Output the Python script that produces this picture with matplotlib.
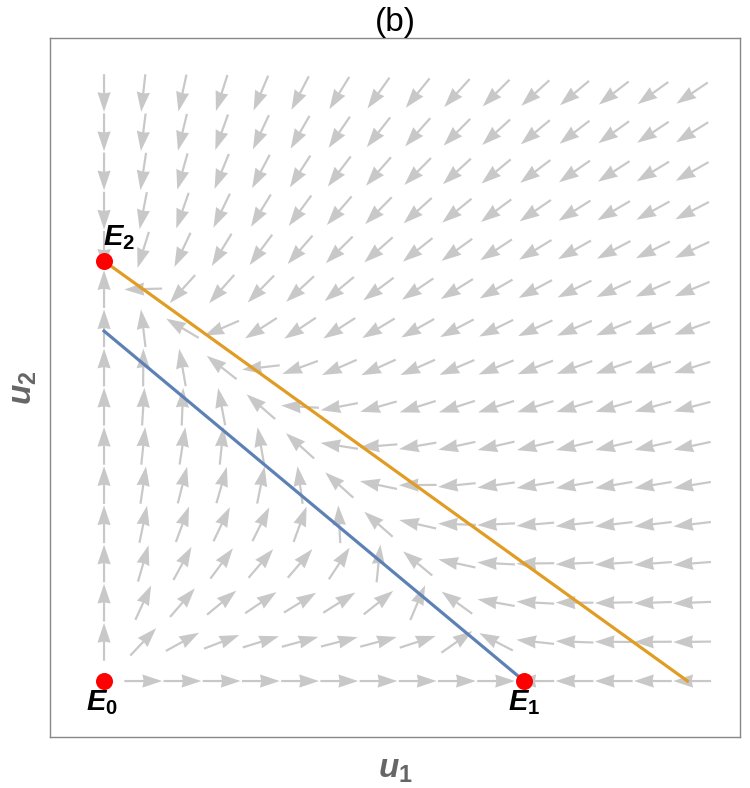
import numpy as np
import matplotlib.pyplot as plt

# model parameters (competition model)
K1, K2 = 1.0, 1.0        # carrying capacities
a12, a21 = 1.2, 0.72     # competition coefficients

# equilibria
eq_names = ['$E_0$', '$E_1$', '$E_2$']
eq_u1 = [0.0, 1.0, 0.0]
eq_u2 = [0.0, 0.0, 1.0]

# nullcline end points
blue_u1 = [0.0, K1]
blue_u2 = [K1 / a12, 0.0]
orange_u1 = [0.0, K2 / a21]
orange_u2 = [K2, 0.0]

# grid for the direction field
grid_n = 16
grid_max = 1.4

plt.rcParams['font.family'] = ['Liberation Sans', 'DejaVu Sans']
plt.rcParams['mathtext.fontset'] = 'custom'
plt.rcParams['mathtext.it'] = 'Liberation Sans:bold:italic'
plt.rcParams['mathtext.rm'] = 'Liberation Sans:bold'
plt.rcParams['mathtext.bf'] = 'Liberation Sans:bold'


def field(u1, u2):
    du1 = u1 * (1 - u1 / K1 - a12 * u2 / K1)
    du2 = u2 * (1 - u2 / K2 - a21 * u1 / K2)
    return du1, du2


fig = plt.figure(figsize=(7.5, 7.88), dpi=100)
ax = fig.add_axes([0.0667, 0.0647, 0.92, 0.887])

g = np.linspace(0, grid_max, grid_n)
U1, U2 = np.meshgrid(g, g)
DU, DV = field(U1, U2)
mag = np.hypot(DU, DV)
mag[mag == 0] = np.nan
L = 0.09
ax.quiver(U1, U2, DU / mag * L, DV / mag * L, angles='xy', scale_units='xy',
          scale=1, pivot='middle', color='#c8c8c8', units='dots', width=2.2,
          headwidth=6, headlength=9, headaxislength=8.5, zorder=1)

ax.plot(blue_u1, blue_u2, color='#5e81b5', lw=2.3, zorder=2)
ax.plot(orange_u1, orange_u2, color='#e19c24', lw=2.3, zorder=2)
ax.scatter(eq_u1, eq_u2, s=150, color='red', zorder=3, linewidths=0)

ax.text(eq_u1[0] - 0.005, eq_u2[0] - 0.018, eq_names[0], ha='center', va='top', fontsize=21)
ax.text(eq_u1[1], eq_u2[1] - 0.018, eq_names[1], ha='center', va='top', fontsize=21)
ax.text(eq_u1[2] - 0.002, eq_u2[2] + 0.022, eq_names[2], ha='left', va='bottom', fontsize=21)

ax.set_xlim(-0.1286, 1.514)
ax.set_ylim(-0.1333, 1.531)
ax.set_xticks([])
ax.set_yticks([])
for s in ax.spines.values():
    s.set_color('#888888')
    s.set_linewidth(1)

ax.set_title('(b)', fontsize=24, pad=2)
ax.set_xlabel('$u_1$', fontsize=24, color='#666666', labelpad=12)
ax.set_ylabel('$u_2$', fontsize=24, color='#666666', labelpad=8)

fig.savefig('out.png', dpi=100)
